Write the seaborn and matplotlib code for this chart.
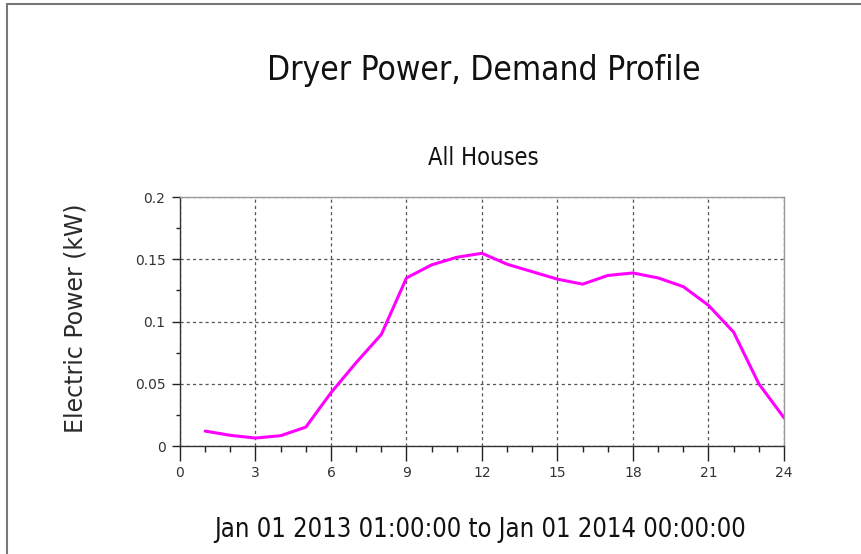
import numpy as np
import pandas as pd
import matplotlib
matplotlib.use("Agg")
import matplotlib.pyplot as plt
import seaborn as sns
from matplotlib.lines import Line2D
from matplotlib.ticker import MultipleLocator

# ── Data ──────────────────────────────────────────────────────────────────────
hours = [1, 2, 3, 4, 5, 6, 7, 8, 9, 10, 11, 12,
         13, 14, 15, 16, 17, 18, 19, 20, 21, 22, 23, 24]
power_kw = [0.012, 0.0086, 0.0064, 0.0083, 0.0152, 0.0428, 0.067, 0.0896,
            0.135, 0.1455, 0.1516, 0.1548, 0.146, 0.140, 0.134, 0.130,
            0.137, 0.139, 0.135, 0.128, 0.113, 0.0914, 0.050, 0.0227]
x_ticks = [0, 3, 6, 9, 12, 15, 18, 21, 24]
y_ticks = [0, 0.05, 0.1, 0.15, 0.2]
y_tick_labels = ["0", "0.05", "0.1", "0.15", "0.2"]

TITLE = "Dryer Power, Demand Profile"
SUBTITLE = "All Houses"
Y_LABEL = "Electric Power (kW)"
X_LABEL = "Jan 01 2013 01:00:00 to Jan 01 2014 00:00:00"

df = pd.DataFrame({"hour": hours, "power": power_kw})

sns.set_theme(style="white")
plt.rcParams["font.family"] = ["DejaVu Sans"]

fig = plt.figure(figsize=(8.62, 5.54), dpi=100)
ax = fig.add_axes([0.2088, 0.1949, 0.9095 - 0.2088, 0.6444 - 0.1949])

sns.lineplot(data=df, x="hour", y="power", color="#ff00ff", linewidth=2.2, ax=ax)

ax.set_xlim(0, 24)
ax.set_ylim(0, 0.2)
ax.set_xticks(x_ticks)
ax.set_yticks(y_ticks)
ax.set_yticklabels(y_tick_labels)
ax.xaxis.set_minor_locator(MultipleLocator(1))
ax.yaxis.set_minor_locator(MultipleLocator(0.025))

# ── Ticks ─────────────────────────────────────────────────────────────────────
ax.tick_params(axis="x", which="major", direction="out", length=10.5, width=1,
               color="#222222", labelsize=10, labelcolor="#333333", pad=4,
               bottom=True)
ax.tick_params(axis="x", which="minor", direction="out", length=4, width=1,
               color="#222222", bottom=True)
ax.tick_params(axis="y", which="major", direction="out", length=5.5, width=1,
               color="#222222", labelsize=10, labelcolor="#333333", pad=5,
               left=True)
ax.tick_params(axis="y", which="minor", direction="out", length=3, width=1,
               color="#222222", left=True)
ax.grid(True, which="major", linestyle=(0, (2.5, 2.5)), color="#555555", linewidth=0.9)

for side in ["left", "bottom"]:
    ax.spines[side].set_color("#333333")
    ax.spines[side].set_linewidth(1)
for side in ["top", "right"]:
    ax.spines[side].set_color("#999999")
    ax.spines[side].set_linewidth(1)

ax.set_xlabel("")
ax.set_ylabel("")
fig.text(0.088, 0.426, Y_LABEL, ha="center", va="center", rotation=90,
         fontsize=17, color="#2a2a2a")

fig.text(0.561, 0.873, TITLE, ha="center", va="center", fontsize=24,
         fontstretch="condensed", color="#111111")
fig.text(0.561, 0.715, SUBTITLE, ha="center", va="center", fontsize=17,
         fontstretch="condensed", color="#111111")
fig.text(0.557, 0.043, X_LABEL, ha="center", va="center", fontsize=18.4,
         fontstretch="condensed", color="#111111")

# figure frame (top and left edges only)
fig.add_artist(Line2D([0.008, 1.0], [0.992, 0.992], transform=fig.transFigure,
                      color="#777777", linewidth=1.5))
fig.add_artist(Line2D([0.008, 0.008], [0.0, 0.992], transform=fig.transFigure,
                      color="#777777", linewidth=1.5))

fig.savefig("out.png", dpi=100)
